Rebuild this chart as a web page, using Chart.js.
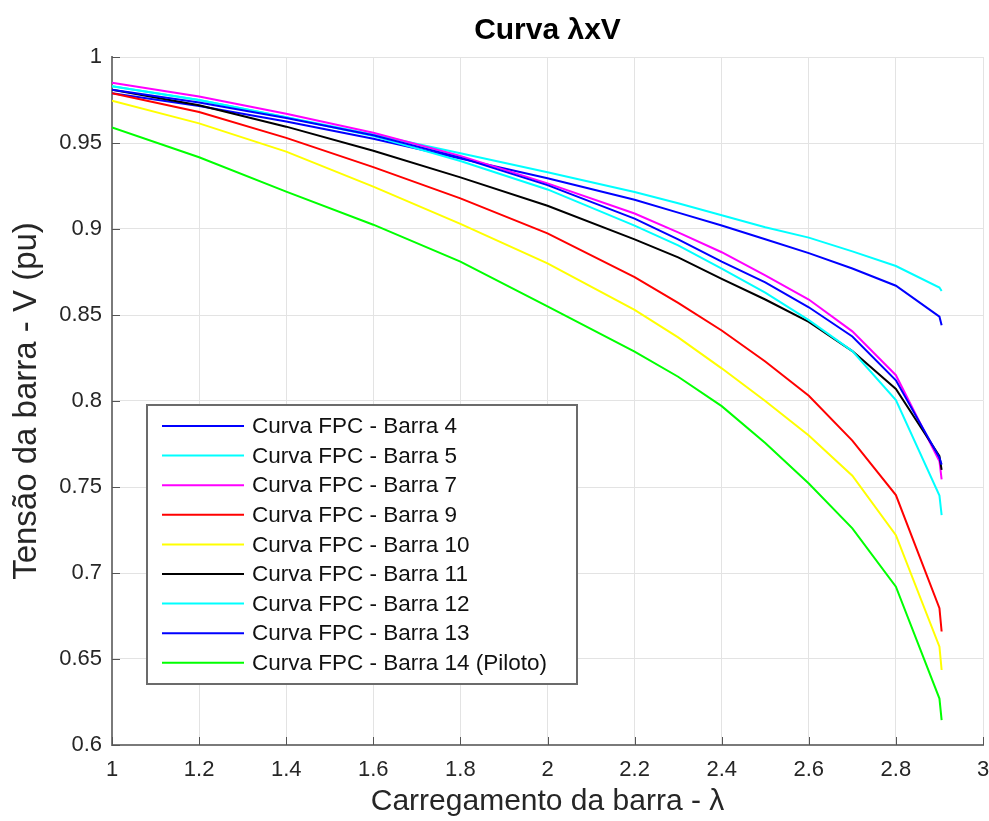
<!DOCTYPE html>
<html>
<head>
<meta charset="utf-8">
<script src="https://cdn.jsdelivr.net/npm/chart.js@4.4.1/dist/chart.umd.min.js"></script>
<style>
  html, body { margin: 0; padding: 0; background: #ffffff; }
  #c { display: block; }
</style>
</head>
<body>
<canvas id="c" width="989" height="821"></canvas>
<script>
// ---- data ----
const lambda = [1.0, 1.2, 1.4, 1.6, 1.8, 2.0, 2.2, 2.3, 2.4, 2.5, 2.6, 2.7, 2.8, 2.9, 2.905];

const barra4  = [0.979, 0.9715, 0.9625, 0.9525, 0.941, 0.9295, 0.917, 0.9095, 0.902, 0.894, 0.886, 0.877, 0.867, 0.849, 0.844];
const barra5  = [0.983, 0.975, 0.965, 0.955, 0.944, 0.933, 0.9215, 0.915, 0.908, 0.901, 0.895, 0.887, 0.8785, 0.866, 0.864];
const barra7  = [0.985, 0.977, 0.967, 0.956, 0.9425, 0.9265, 0.909, 0.898, 0.8865, 0.873, 0.859, 0.8405, 0.815, 0.765, 0.7545];
const barra9  = [0.979, 0.968, 0.953, 0.936, 0.9178, 0.8975, 0.872, 0.857, 0.841, 0.823, 0.803, 0.777, 0.7453, 0.6795, 0.666];
const barra10 = [0.9746, 0.9614, 0.945, 0.9246, 0.903, 0.880, 0.853, 0.837, 0.819, 0.800, 0.780, 0.7566, 0.722, 0.6572, 0.6436];
const barra11 = [0.981, 0.972, 0.9595, 0.9455, 0.930, 0.9135, 0.894, 0.8835, 0.871, 0.859, 0.846, 0.829, 0.807, 0.768, 0.760];
const barra12 = [0.983, 0.975, 0.965, 0.954, 0.9395, 0.923, 0.902, 0.8905, 0.877, 0.863, 0.847, 0.829, 0.8005, 0.745, 0.7337];
const barra13 = [0.981, 0.9735, 0.9645, 0.9545, 0.9415, 0.9255, 0.906, 0.894, 0.881, 0.869, 0.8545, 0.8375, 0.812, 0.767, 0.763];
const barra14 = [0.959, 0.9417, 0.9217, 0.9025, 0.881, 0.855, 0.8287, 0.8141, 0.797, 0.7756, 0.752, 0.726, 0.692, 0.627, 0.6145];

const seriesLabels = [
  'Curva FPC - Barra 4', 'Curva FPC - Barra 5', 'Curva FPC - Barra 7',
  'Curva FPC - Barra 9', 'Curva FPC - Barra 10', 'Curva FPC - Barra 11',
  'Curva FPC - Barra 12', 'Curva FPC - Barra 13', 'Curva FPC - Barra 14 (Piloto)'
];
const seriesValues = [barra4, barra5, barra7, barra9, barra10, barra11, barra12, barra13, barra14];

const xTickValues = [1, 1.2, 1.4, 1.6, 1.8, 2, 2.2, 2.4, 2.6, 2.8, 3];
const yTickValues = [0.6, 0.65, 0.7, 0.75, 0.8, 0.85, 0.9, 0.95, 1];

const titleText = 'Curva λxV';
const xTitle = 'Carregamento da barra - λ';
const yTitle = 'Tensão da barra - V (pu)';

// ---- styles ----
const seriesColors = ['#0000ff', '#00ffff', '#ff00ff', '#ff0000', '#ffff00', '#000000', '#00ffff', '#0000ff', '#00ff00'];
const FONT = "'Liberation Sans', Arial, Helvetica, sans-serif";
const TXT = '#262626';

const datasets = seriesValues.map((vals, i) => ({
  label: seriesLabels[i],
  data: vals.map((v, k) => ({ x: lambda[k], y: v })),
  borderColor: seriesColors[i],
  backgroundColor: seriesColors[i],
  borderWidth: 2,
  pointRadius: 0,
  tension: 0,
  fill: false,
  order: seriesValues.length - i
}));

const fmt = v => String(parseFloat(Number(v).toFixed(3)));

// inward ticks like the reference
const innerTicks = {
  id: 'innerTicks',
  afterDraw(chart) {
    const ctx = chart.ctx, ca = chart.chartArea;
    const xs = chart.scales.x, ys = chart.scales.y;
    ctx.save();
    ctx.strokeStyle = '#555555';
    ctx.lineWidth = 1;
    ctx.beginPath();
    xTickValues.forEach(v => {
      const px = Math.round(xs.getPixelForValue(v)) + 0.5;
      ctx.moveTo(px, ca.bottom);
      ctx.lineTo(px, ca.bottom - 8);
    });
    yTickValues.forEach(v => {
      const py = Math.round(ys.getPixelForValue(v)) + 0.5;
      ctx.moveTo(ca.left, py);
      ctx.lineTo(ca.left + 8, py);
    });
    ctx.stroke();
    ctx.restore();
  }
};

// boxed legend inside the plot, like the reference
const boxLegend = {
  id: 'boxLegend',
  afterDraw(chart) {
    const ctx = chart.ctx, ca = chart.chartArea;
    const bx = ca.left + 35, by = ca.top + 348, bw = 430, bh = 279;
    const rowH = 29.6, firstY = by + 21;
    ctx.save();
    ctx.fillStyle = '#ffffff';
    ctx.fillRect(bx, by, bw, bh);
    ctx.strokeStyle = '#6b6b6b';
    ctx.lineWidth = 2;
    ctx.strokeRect(bx, by, bw, bh);
    ctx.font = '22.5px ' + FONT;
    ctx.textBaseline = 'middle';
    ctx.textAlign = 'left';
    chart.data.datasets.forEach((ds, i) => {
      const y = firstY + i * rowH;
      ctx.strokeStyle = ds.borderColor;
      ctx.lineWidth = 2;
      ctx.beginPath();
      ctx.moveTo(bx + 15, y);
      ctx.lineTo(bx + 97, y);
      ctx.stroke();
      ctx.fillStyle = '#111111';
      ctx.fillText(ds.label, bx + 105, y + 1);
    });
    ctx.restore();
  }
};

new Chart(document.getElementById('c'), {
  type: 'line',
  data: { datasets },
  options: {
    responsive: false,
    animation: false,
    layout: { padding: { top: 0, right: 6, left: 0, bottom: 0 } },
    plugins: {
      legend: { display: false },
      tooltip: { enabled: false },
      title: {
        display: true,
        text: titleText,
        fullSize: false,
        color: '#000000',
        font: { family: FONT, size: 30, weight: 'bold' },
        padding: { top: 13, bottom: 8 }
      }
    },
    scales: {
      x: {
        type: 'linear',
        min: 1, max: 3,
        afterBuildTicks: s => { s.ticks = xTickValues.map(v => ({ value: v })); },
        afterFit: s => { s.height = 76; s.paddingLeft = 0; s.paddingRight = 0; },
        ticks: {
          color: TXT, padding: 12,
          font: { family: FONT, size: 22 },
          maxRotation: 0, autoSkip: false,
          callback: v => fmt(v)
        },
        grid: { color: '#e3e3e3', lineWidth: 1, drawTicks: false },
        border: { display: true, color: '#7a7a7a', width: 2 },
        title: {
          display: true, text: xTitle, color: TXT,
          font: { family: FONT, size: 30 },
          padding: { top: 0, bottom: 1 }
        }
      },
      y: {
        type: 'linear',
        min: 0.6, max: 1,
        afterBuildTicks: s => { s.ticks = yTickValues.map(v => ({ value: v })); },
        afterFit: s => { s.width = 112; s.paddingTop = 0; s.paddingBottom = 0; },
        ticks: {
          color: TXT, padding: 10,
          font: { family: FONT, size: 22 },
          autoSkip: false,
          callback: v => fmt(v)
        },
        grid: { color: '#e3e3e3', lineWidth: 1, drawTicks: false },
        border: { display: true, color: '#7a7a7a', width: 2 },
        title: {
          display: true, text: yTitle, color: TXT,
          font: { family: FONT, size: 33 },
          padding: { top: 7, bottom: 0 }
        }
      }
    }
  },
  plugins: [innerTicks, boxLegend]
});
</script>
</body>
</html>
